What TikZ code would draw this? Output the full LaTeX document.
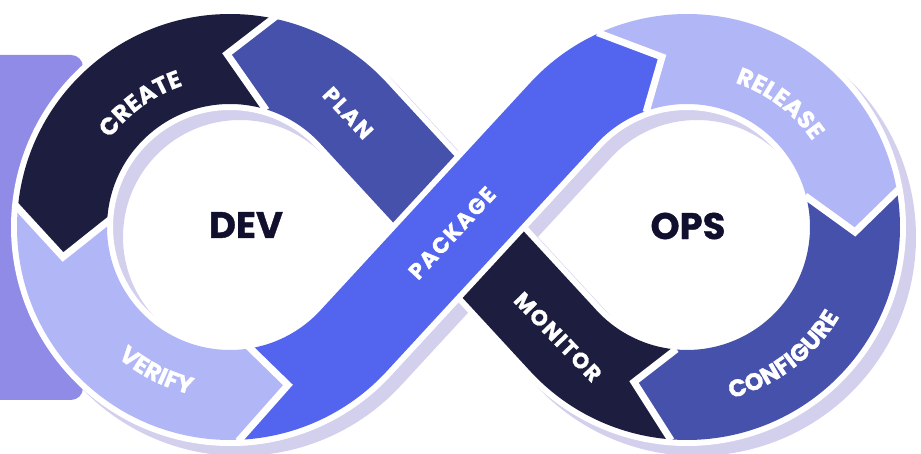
\documentclass[tikz,border=0pt]{standalone}
\usepackage{fontspec}
\usetikzlibrary{calc,decorations.text}
\newfontfamily\labfont{Poppins}[BoldFeatures={FakeBold=0.9}]
\newfontfamily\tagfont{Poppins}[LetterSpace=7, BoldFeatures={FakeBold=1.1}]
\definecolor{navy}{HTML}{1C1D3F}
\definecolor{indigo}{HTML}{4551AA}
\definecolor{peri}{HTML}{B1B6F7}
\definecolor{azure}{HTML}{5364EF}
\definecolor{lilac}{HTML}{918BE8}
\definecolor{haze}{HTML}{D3D0EE}
\definecolor{ink}{HTML}{100F2E}
\def\tang{42.67}
% centre line of the whole loop
\def\eight{(TL1) arc[start angle=\tang, end angle=360-\tang, radius=168] -- (TR1) arc[start angle=180-\tang, end angle=-180+\tang, radius=168] -- cycle}
% centre line of the package strip
\def\pkg{([shift={(-110:168)}]L) arc[start angle=-110, end angle=-\tang, radius=168] -- (TR1) arc[start angle=180-\tang, end angle=80, radius=168]}
\def\arcfont{\labfont\bfseries\fontsize{24}{28}\selectfont\color{white}}

\begin{document}
\begin{tikzpicture}[x=1pt, y=1pt,
    band/.style={line width=90pt},
    rim/.style={line width=102pt},
    gap/.style={white, line width=7pt, line join=miter},
    lbl/.style={text=white, font=\tagfont\bfseries\fontsize{22}{26}\selectfont},
    hub/.style={text=ink, font=\labfont\bfseries\fontsize{37}{44}\selectfont}]
  \useasboundingbox (0,0) rectangle (921,454);
  \fill[white] (0,0) rectangle (921,454);
  \fill[lilac, rounded corners=12] (-20,54) rectangle (83,399);

  \coordinate (L) at (230,227);
  \coordinate (R) at (687,227);
  \coordinate (M) at (458.5,227);
  \coordinate (TL1) at ([shift={(\tang:168)}]L);
  \coordinate (TR1) at ([shift={(180-\tang:168)}]R);

  % joints: outer edge, tip, inner edge
  \coordinate (o1) at (275,437); \coordinate (t1) at (227,400); \coordinate (i1) at (264,347);
  \coordinate (o2) at (18,246);  \coordinate (t2) at (63,197);  \coordinate (i2) at (107,232);
  \coordinate (o3) at (241,16);  \coordinate (t3) at (288,69);  \coordinate (i3) at (250,106);
  \coordinate (o4) at (601,420); \coordinate (t4) at (662,397); \coordinate (i4) at (647,345);
  \coordinate (o5) at (896,262); \coordinate (t5) at (855,222); \coordinate (i5) at (808,256);
  \coordinate (o6) at (669,17);  \coordinate (t6) at (634,72);  \coordinate (i6) at (674,103);
  \foreach \b in {1,...,6} {
    \coordinate (f\b) at ($(t\b)!3!(o\b)$);
    \coordinate (n\b) at ($(t\b)!1.5!(i\b)$);
  }

  % shadow and white rim
  \begin{scope}[transform canvas={shift={(10,-10)}}]
    \draw[rim, haze] \eight;
  \end{scope}
  \draw[rim, white] \eight;

  % create
  \begin{scope}
    \clip (L) -- (n1) -- (t1) -- (f1) -- (-100,600) -- (f2) -- (t2) -- (n2) -- cycle;
    \draw[band, navy] \eight;
  \end{scope}
  % verify
  \begin{scope}
    \clip (L) -- (n2) -- (t2) -- (f2) -- (-100,-100) -- (f3) -- (t3) -- (n3) -- cycle;
    \draw[band, peri] \eight;
  \end{scope}
  % plan
  \begin{scope}
    \clip (L) -- (n1) -- (t1) -- (f1) -- (458.5,600) -- (M) -- cycle;
    \draw[band, indigo] \eight;
  \end{scope}
  % release
  \begin{scope}
    \clip (R) -- (n4) -- (t4) -- (f4) -- (479,600) -- (1100,600) -- (f5) -- (t5) -- (n5) -- cycle;
    \draw[band, peri] \eight;
  \end{scope}
  % configure
  \begin{scope}
    \clip (R) -- (n6) -- (t6) -- (f6) -- (1100,-100) -- (f5) -- (t5) -- (n5) -- cycle;
    \draw[band, indigo] \eight;
  \end{scope}
  % monitor
  \begin{scope}
    \clip (M) -- (458.5,-100) -- (f6) -- (t6) -- (n6) -- (R) -- cycle;
    \draw[band, navy] \eight;
  \end{scope}
  % package, on top of the crossing
  \begin{scope}
    \clip (f3) -- (t3) -- (n3) -- (231,300) -- (f4) -- (t4) -- (n4) -- (700,-100) -- cycle;
    \draw[rim, white] \pkg;
    \draw[band, azure] \pkg;
  \end{scope}

  \foreach \b in {1,...,6}
    \draw[gap] ($(t\b)!1.06!(o\b)$) -- (t\b) -- ($(t\b)!1.06!(i\b)$);

  % labels
  \path[decorate, decoration={text along path, text align=center, text={|\arcfont|CREATE}}]
    ([shift={(165:149)}]L) arc[start angle=165, end angle=87, radius=149];
  \path[decorate, decoration={text along path, text align=center, text={|\arcfont|VERIFY}}]
    ([shift={(205:172)}]L) arc[start angle=205, end angle=281, radius=172];
  \path[decorate, decoration={text along path, text align=center, text={|\arcfont|RELEASE}}]
    ([shift={(92:152)}]R) arc[start angle=92, end angle=14, radius=152];
  \path[decorate, decoration={text along path, text align=center, text={|\arcfont|CONFIGURE}}]
    ([shift={(-100:177)}]R) arc[start angle=-100, end angle=-6, radius=177];
  \node[lbl, rotate=-47] (plan) at (348,341) {PLAN};
  \node[lbl, rotate=47.3] (package) at (452,221) {PACKAGE};
  \node[lbl, rotate=-46] (monitor) at (558,117) {MONITOR};
  \node[hub] (dev) at (246,229) {DEV};
  \node[hub] (ops) at (688,228) {OPS};
\end{tikzpicture}
\end{document}
